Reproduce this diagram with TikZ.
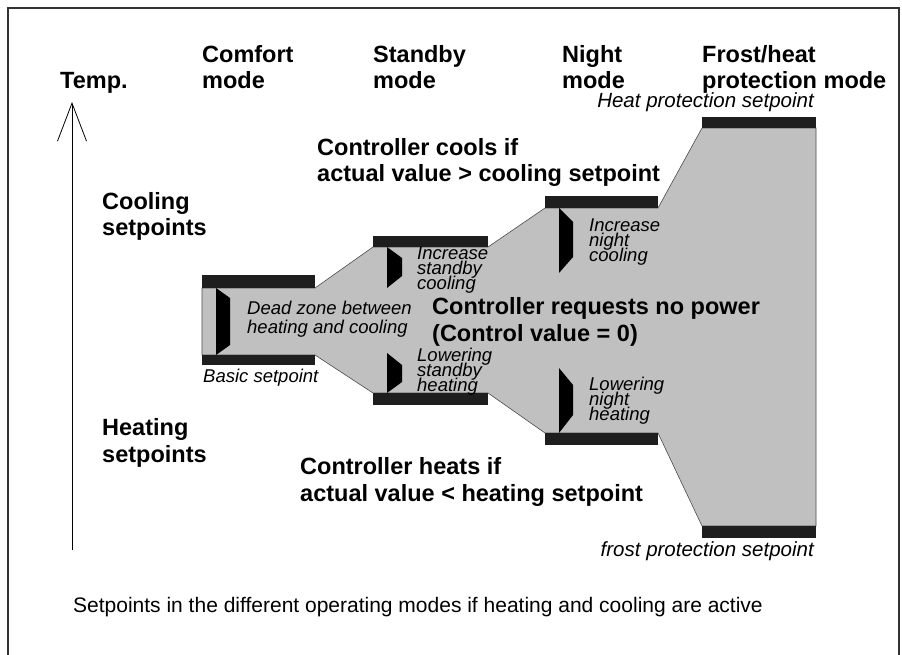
\documentclass[tikz,border=0pt]{standalone}
\usepackage{fontspec}
\setmainfont{Liberation Sans}
\usetikzlibrary{arrows.meta,positioning}
\definecolor{zonegray}{HTML}{C0C0C0}
\definecolor{bargray}{HTML}{1E1E1E}
\newcommand\tightlines{\lineskiplimit=-20pt\relax\lineskip=0pt\relax}

\begin{document}
\begin{tikzpicture}[
    x=1pt, y=-1pt,
    hdr/.style={font=\fontsize{23.5}{26.5}\selectfont\bfseries, align=left, anchor=base west, inner sep=0pt},
    lbl/.style={font=\fontsize{18.5}{15}\selectfont\itshape\tightlines, align=left, anchor=base west, inner sep=0pt},
    protlbl/.style={font=\fontsize{20.5}{20.5}\selectfont\itshape, anchor=base east, inner sep=0pt},
    bar/.style={fill=bargray, draw=none},
    wedge/.style={fill=black, draw=none}
]
    \useasboundingbox (0,0) rectangle (902,655);
    \draw[line width=2pt, black!80] (8,655) -- (8,8) -- (899,8) -- (899,655);

    % zone between the setpoints
    \filldraw[fill=zonegray, draw=black!70, line width=0.6pt]
        (202,288) -- (315,288) -- (373,247) -- (488,247) -- (545,208) -- (658,208)
        -- (702,128) -- (816,128) -- (816,526) -- (702,526) -- (658,433) -- (545,433)
        -- (488,393) -- (373,393) -- (315,355) -- (202,355) -- cycle;

    % setpoint bars
    \fill[bar] (202,275) rectangle (315,288);
    \fill[bar] (202,355) rectangle (315,365);
    \fill[bar] (373,236) rectangle (488,247);
    \fill[bar] (373,393) rectangle (488,405);
    \fill[bar] (545,196) rectangle (658,208);
    \fill[bar] (545,433) rectangle (658,445);
    \fill[bar] (702,117) rectangle (816,128);
    \fill[bar] (702,526) rectangle (816,538);

    % offsets
    \fill[wedge] (216,288) -- (230,298) -- (230,345) -- (216,355) -- cycle;
    \fill[wedge] (387,247) -- (402,258) -- (402,276) -- (387,288) -- cycle;
    \fill[wedge] (387,353) -- (402,365) -- (402,382) -- (387,393) -- cycle;
    \fill[wedge] (559,208) -- (573,222) -- (573,257) -- (559,273) -- cycle;
    \fill[wedge] (559,368) -- (573,385) -- (573,415) -- (559,433) -- cycle;

    % temperature axis
    \coordinate (tbot) at (72,550);
    \coordinate (ttop) at (72,102);
    \draw[-{Straight Barb[length=38pt,width=29pt]}, line width=0.8pt] (tbot) -- (ttop);

    % multi-line nodes sit on the baseline of their last line
    \node[hdr] (temp) at (60,89) {Temp.};
    \node[hdr] (comfort) at (202,89) {Comfort\\mode};
    \node[hdr] (standby) at (373,89) {Standby\\mode};
    \node[hdr] (night) at (562,89) {Night\\mode};
    \node[hdr] (frost) at (702,89) {Frost/heat\\protection mode};

    \node[hdr] (cool) at (102,236) {Cooling\\setpoints};
    \node[hdr] (heat) at (102,462) {Heating\\setpoints};

    \node[hdr] (cools) at (317,182) {Controller cools if\\actual value > cooling setpoint};
    \node[hdr] (nopower) at (432,341) {Controller requests no power\\(Control value = 0)};
    \node[hdr] (heats) at (300,501) {Controller heats if\\actual value < heating setpoint};

    \node[lbl, font=\fontsize{18.5}{18.5}\selectfont\itshape] (dead) at (247,333) {Dead zone between\\heating and cooling};
    \node[lbl] (basic) at (203,382) {Basic setpoint};
    \node[lbl] (sbcool) at (417,289) {Increase\\standby\\cooling};
    \node[lbl] (sbheat) at (417,391) {Lowering\\standby\\heating};
    \node[lbl] (ntcool) at (589,261) {Increase\\night\\cooling};
    \node[lbl] (ntheat) at (589,420) {Lowering\\night\\heating};
    \node[protlbl] (heatprot) at (814,108) {Heat protection setpoint};
    \node[protlbl] (frostprot) at (814,556) {frost protection setpoint};

    \node[font=\fontsize{21}{24}\selectfont, anchor=base west, inner sep=0pt] (caption) at (73,612)
        {Setpoints in the different operating modes if heating and cooling are active};
\end{tikzpicture}
\end{document}
